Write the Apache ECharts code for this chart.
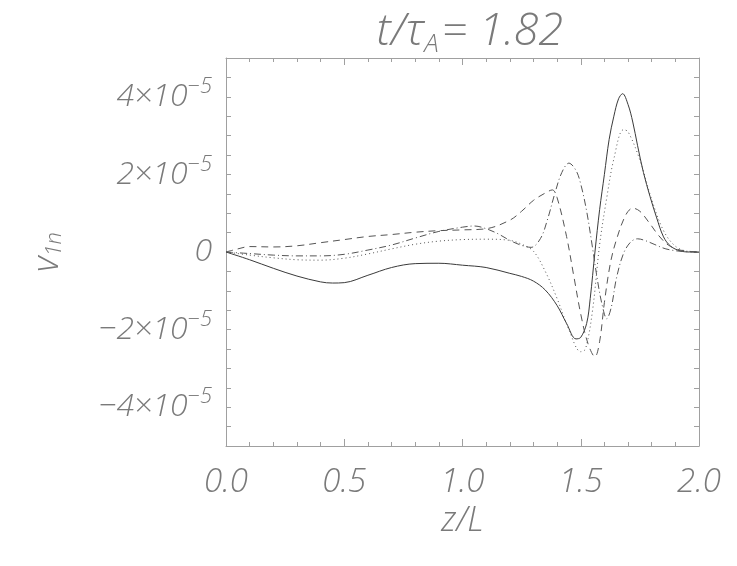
<!DOCTYPE html>
<html>
<head>
<meta charset="utf-8">
<script src="https://cdn.jsdelivr.net/npm/echarts@6/dist/echarts.min.js"></script>
<style>html,body{margin:0;padding:0;background:#fff}#c{width:737px;height:566px}</style>
</head>
<body>
<div id="c"></div>
<script>
// Values in units of 1e-5
const zSolid = [0,0.1,0.2,0.3,0.4,0.45,0.5,0.6,0.7,0.8,0.9,1.0,1.1,1.2,1.25,1.3,1.35,1.4,1.44,1.48,1.5,1.525,1.54,1.56,1.58,1.6,1.62,1.64,1.66,1.677,1.7,1.72,1.74,1.765,1.793,1.82,1.85,1.88,1.92,1.96,2.0];
const vSolid = [0,-0.2,-0.42,-0.62,-0.77,-0.8,-0.79,-0.6,-0.4,-0.3,-0.29,-0.34,-0.4,-0.55,-0.63,-0.75,-0.98,-1.38,-1.84,-2.24,-2.2,-1.84,-1.2,0,1.1,2.0,2.9,3.5,3.95,4.08,3.8,3.35,2.75,2.05,1.43,0.9,0.39,0.15,0.03,0,0];

const zDotted = [0,0.1,0.2,0.3,0.4,0.5,0.6,0.7,0.8,0.9,1.0,1.1,1.2,1.25,1.3,1.35,1.4,1.45,1.5,1.52,1.55,1.58,1.61,1.64,1.68,1.7,1.75,1.8,1.85,1.9,1.95,2.0];
const vDotted = [0,-0.08,-0.15,-0.2,-0.21,-0.16,-0.05,0.08,0.2,0.28,0.32,0.33,0.3,0.2,0.02,-0.5,-1.2,-2.0,-2.57,-2.5,-1.5,0.2,1.4,2.4,3.15,3.1,2.37,1.35,0.55,0.15,0.02,0];

const zDashed = [0,0.05,0.1,0.2,0.3,0.4,0.5,0.6,0.7,0.8,0.9,1.0,1.1,1.2,1.25,1.3,1.35,1.38,1.4,1.44,1.47,1.5,1.53,1.56,1.58,1.6,1.625,1.65,1.69,1.72,1.75,1.79,1.83,1.87,1.92,2.0];
const vDashed = [0,0.08,0.14,0.13,0.16,0.24,0.32,0.4,0.45,0.51,0.55,0.57,0.6,0.82,1.05,1.33,1.52,1.6,1.4,0.4,-0.6,-1.6,-2.35,-2.7,-2.3,-1.3,-0.3,0.3,0.95,1.13,1.05,0.75,0.42,0.18,0.05,0];

const zDashDot = [0,0.1,0.2,0.3,0.4,0.5,0.6,0.7,0.8,0.9,1.0,1.05,1.1,1.15,1.2,1.25,1.29,1.33,1.36,1.39,1.42,1.45,1.48,1.5,1.525,1.55,1.57,1.59,1.61,1.63,1.65,1.68,1.71,1.74,1.77,1.81,1.86,1.92,2.0];
const vDashDot = [0,-0.04,-0.08,-0.1,-0.1,-0.06,0.05,0.18,0.36,0.53,0.64,0.67,0.6,0.47,0.3,0.17,0.12,0.35,0.85,1.5,2.05,2.29,2.1,1.75,1.05,0.1,-0.7,-1.35,-1.72,-1.4,-0.7,-0.05,0.25,0.34,0.3,0.2,0.08,0.02,0];

const xTicks = [0, 0.5, 1.0, 1.5, 2.0];
const yTickLabels = [-4, -2, 0, 2, 4];

const FONT = '"Open Sans", "DejaVu Sans", sans-serif';
const TXT = '#7a7a7a';
const AX = '#a0a0a0';

function pairs(z, v) { return z.map((x, i) => [x, v[i]]); }

const chart = echarts.init(document.getElementById('c'), null, {renderer: 'canvas'});

const baseLabel = {fontFamily: FONT, fontStyle: 'italic', fontWeight: 300, color: TXT};

const option = {
  animation: false,
  backgroundColor: '#fff',
  title: {
    text: '{a|t/τ}{s|A}{a|= 1.82}',
    left: 465, top: 1, textAlign: 'center',
    textStyle: {
      rich: {
        a: Object.assign({}, baseLabel, {fontSize: 45}),
        s: Object.assign({}, baseLabel, {fontSize: 26, padding: [26, 3, 0, 0]})
      }
    }
  },
  grid: {left: 226, top: 58, width: 473, height: 388, containLabel: false},
  xAxis: [
    {
      type: 'value', min: 0, max: 2, interval: 0.5, position: 'bottom',
      axisLine: {show: true, onZero: false, lineStyle: {color: AX, width: 1}},
      axisTick: {show: true, inside: true, length: 7, lineStyle: {color: AX}},
      minorTick: {show: true, splitNumber: 5, length: 4, lineStyle: {color: AX}},
      splitLine: {show: false},
      axisLabel: Object.assign({}, baseLabel, {fontSize: 33, margin: 20,
        customValues: xTicks,
        formatter: v => v.toFixed(1)}),
      name: 'z/L', nameLocation: 'middle', nameGap: 54,
      nameTextStyle: Object.assign({}, baseLabel, {fontSize: 34})
    },
    {
      type: 'value', min: 0, max: 2, interval: 0.5, position: 'top',
      axisLine: {show: true, onZero: false, lineStyle: {color: AX, width: 1}},
      axisTick: {show: true, inside: true, length: 7, lineStyle: {color: AX}},
      minorTick: {show: true, splitNumber: 5, length: 4, lineStyle: {color: AX}},
      splitLine: {show: false}, axisLabel: {show: false}
    }
  ],
  yAxis: [
    {
      type: 'value', min: -5, max: 5, interval: 0.5, position: 'left',
      axisLine: {show: true, onZero: false, lineStyle: {color: AX, width: 1}},
      axisTick: {show: true, inside: true, length: 5, lineStyle: {color: AX}},
      splitLine: {show: false},
      axisLabel: Object.assign({}, baseLabel, {
        margin: 14,
        customValues: yTickLabels,
        formatter: v => v === 0 ? '{b|0}' : '{b|' + (v < 0 ? '−' : '') + Math.abs(v) + '×10}{s|−5}',
        rich: {
          b: Object.assign({}, baseLabel, {fontSize: 32}),
          s: Object.assign({}, baseLabel, {fontSize: 22, padding: [0, 0, 20, 0]})
        }
      }),
      name: '{v|v}{s|1n}', nameLocation: 'middle', nameGap: 160, nameRotate: 90,
      nameTextStyle: {
        rich: {
          v: Object.assign({}, baseLabel, {fontSize: 36}),
          s: Object.assign({}, baseLabel, {fontSize: 22, padding: [14, 0, 0, 0]})
        }
      }
    },
    {
      type: 'value', min: -5, max: 5, interval: 0.5, position: 'right',
      axisLine: {show: true, onZero: false, lineStyle: {color: AX, width: 1}},
      axisTick: {show: true, inside: true, length: 5, lineStyle: {color: AX}},
      splitLine: {show: false}, axisLabel: {show: false}
    }
  ],
  series: [
    {name: 'solid', type: 'line', data: pairs(zSolid, vSolid), showSymbol: false, smooth: 0.35,
     lineStyle: {color: '#3a3a3a', width: 1, type: 'solid'}},
    {name: 'dotted', type: 'line', data: pairs(zDotted, vDotted), showSymbol: false, smooth: 0.35,
     lineStyle: {color: '#555', width: 1, type: [1, 3]}},
    {name: 'dashed', type: 'line', data: pairs(zDashed, vDashed), showSymbol: false, smooth: 0.35,
     lineStyle: {color: '#555', width: 1, type: [7, 5]}},
    {name: 'dashdot', type: 'line', data: pairs(zDashDot, vDashDot), showSymbol: false, smooth: 0.35,
     lineStyle: {color: '#555', width: 1, type: [7, 3, 1, 3]}}
  ]
};
chart.setOption(option);
</script>
</body>
</html>
